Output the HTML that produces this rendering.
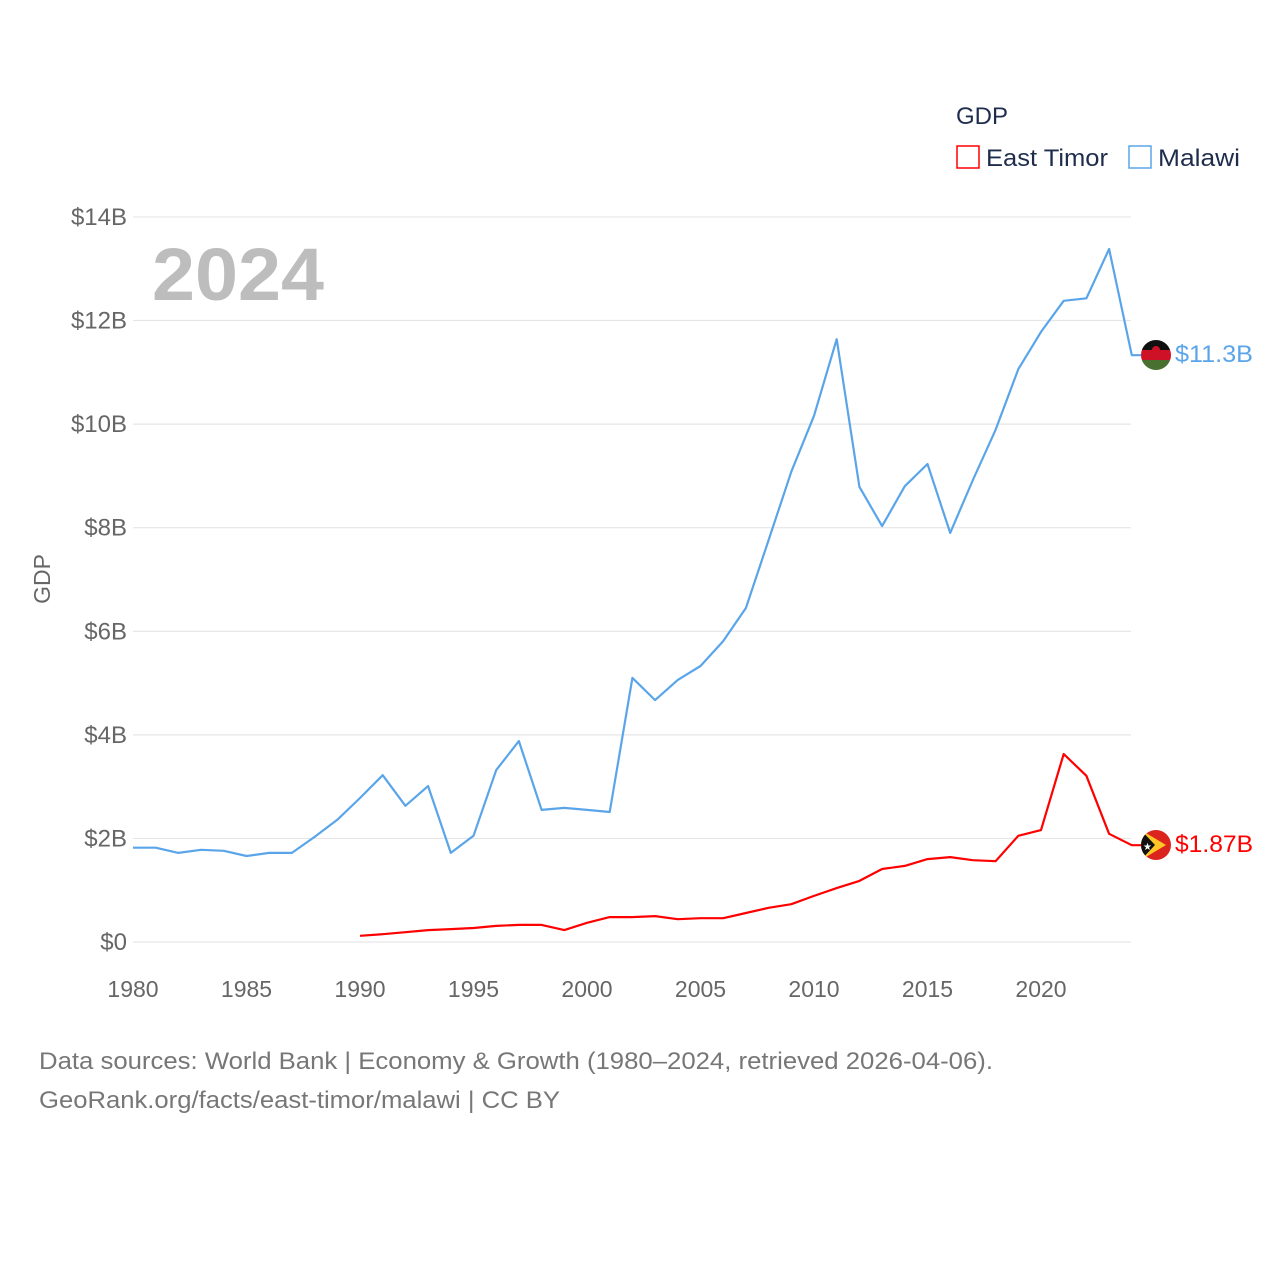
<!DOCTYPE html>
<html><head><meta charset="utf-8"><style>
body{margin:0;background:#fff;}
svg{display:block;font-family:"Liberation Sans",sans-serif;}
</style></head><body>
<svg id="chart" width="1280" height="1280" viewBox="0 0 1280 1280">
<g id="grid"></g>
<g id="yticks"></g>
<g id="xticks"></g>
<text x="50" y="579" transform="rotate(-90 50 579)" text-anchor="middle" font-size="23" fill="#666">GDP</text>
<text x="152" y="300" font-size="74" font-weight="bold" fill="#bdbdbd" textLength="172" lengthAdjust="spacingAndGlyphs">2024</text>
<g id="series"></g>
<g>
<text x="956" y="124" font-size="24" fill="#1f2d4d">GDP</text>
<g><rect x="957" y="146" width="22" height="22" fill="none" stroke="#f00" stroke-width="1.5"/><text x="986" y="166" font-size="24" fill="#1f2d4d" textLength="122" lengthAdjust="spacingAndGlyphs">East Timor</text></g>
<g><rect x="1129" y="146" width="22" height="22" fill="none" stroke="#5aa5ea" stroke-width="1.5"/><text x="1158" y="166" font-size="24" fill="#1f2d4d" textLength="82" lengthAdjust="spacingAndGlyphs">Malawi</text></g>
</g>
<g>
<clipPath id="c1"><circle cx="1156" cy="355" r="15"/></clipPath>
<g clip-path="url(#c1)"><rect x="1141" y="340" width="30" height="10" fill="#111"/><rect x="1141" y="350" width="30" height="10" fill="#ce1126"/><rect x="1141" y="360" width="30" height="10" fill="#4a7030"/><circle cx="1156" cy="350" r="4" fill="#ce1126"/></g>
</g>
<g>
<clipPath id="c2"><circle cx="1156" cy="845" r="15"/></clipPath>
<g clip-path="url(#c2)"><rect x="1141" y="830" width="30" height="30" fill="#dc241f"/><polygon points="1141,830 1166,845 1141,860" fill="#ffc726"/><polygon points="1141,830 1155,845 1141,860" fill="#111"/><text x="1143" y="850" font-size="10" fill="#fff">★</text></g>
</g>
<text x="1175" y="362" font-size="24" fill="#5aa5ea" textLength="78" lengthAdjust="spacingAndGlyphs">$11.3B</text>
<text x="1175" y="852" font-size="24" fill="#f00" textLength="78" lengthAdjust="spacingAndGlyphs">$1.87B</text>
<text x="39" y="1069" font-size="24" fill="#777" textLength="954" lengthAdjust="spacingAndGlyphs">Data sources: World Bank | Economy &amp; Growth (1980–2024, retrieved 2026-04-06).</text>
<text x="39" y="1108" font-size="24" fill="#777" textLength="521" lengthAdjust="spacingAndGlyphs">GeoRank.org/facts/east-timor/malawi | CC BY</text>
</svg>
<script>
const years=[];for(let y=1980;y<=2024;y++)years.push(y);
const malawi=[1.82,1.82,1.72,1.78,1.76,1.66,1.72,1.72,2.03,2.36,2.78,3.22,2.63,3.01,1.72,2.05,3.32,3.88,2.55,2.59,2.55,2.51,5.10,4.67,5.06,5.33,5.81,6.45,7.76,9.08,10.16,11.64,8.79,8.03,8.80,9.23,7.90,8.92,9.89,11.06,11.78,12.38,12.43,13.38,11.33];
const timorYears=[];for(let y=1990;y<=2024;y++)timorYears.push(y);
const timor=[0.12,0.15,0.19,0.23,0.25,0.27,0.31,0.33,0.33,0.23,0.37,0.48,0.48,0.50,0.44,0.46,0.46,0.56,0.66,0.73,0.89,1.04,1.18,1.41,1.47,1.60,1.64,1.58,1.56,2.05,2.16,3.63,3.21,2.09,1.87];
const yTicks=[0,2,4,6,8,10,12,14];
const yTickLabels=["$0","$2B","$4B","$6B","$8B","$10B","$12B","$14B"];
const xTicks=[1980,1985,1990,1995,2000,2005,2010,2015,2020];
const NS="http://www.w3.org/2000/svg";
const X=v=>133+(v-1980)*22.7;
const Y=v=>942-v*51.79;
function mk(tag,parent,attrs){const e=document.createElementNS(NS,tag);for(const k in attrs)e.setAttribute(k,attrs[k]);document.getElementById(parent).appendChild(e);return e;}
yTicks.forEach((t,i)=>{
 const l=mk('line','grid',{x1:133,x2:1131,y1:Y(t),y2:Y(t),stroke:'#e6e6e6','stroke-width':1.2});
 
 
 const tx=mk('text','yticks',{x:127,y:Y(t)+8,'text-anchor':'end','font-size':24,fill:'#666'});
 tx.textContent=yTickLabels[i];
 
 
});
xTicks.forEach(t=>{
 const tx=mk('text','xticks',{x:X(t),y:997,'text-anchor':'middle','font-size':23,fill:'#666'});
 tx.textContent=t;
 
 
});
function line(xs,vs,color,name){
 let d=xs.map((x,i)=>(i?'L':'M')+X(x).toFixed(1)+','+Y(vs[i]).toFixed(1)).join(' ');
 d+=' L1141,'+Y(vs[vs.length-1]).toFixed(1);
 const p=mk('path','series',{d:d,fill:'none',stroke:color,'stroke-width':2.2,'stroke-linejoin':'round'});
 
 
}
line(years,malawi,'#5aa5ea','malawi-line');
line(timorYears,timor,'#f00','east-timor-line');
</script>
</body></html>
